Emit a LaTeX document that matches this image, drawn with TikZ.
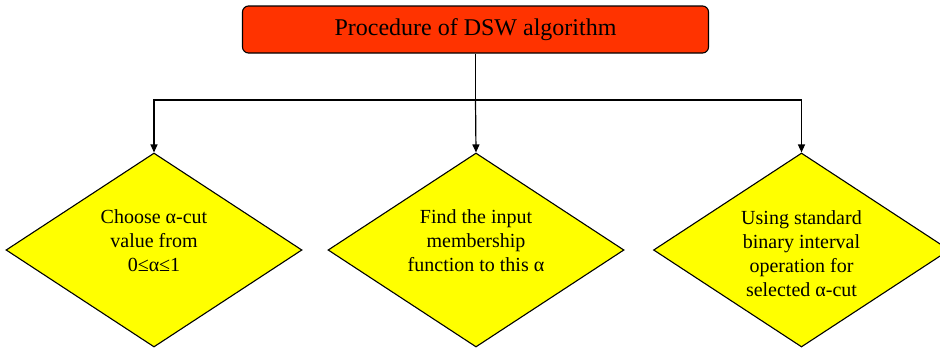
\documentclass[tikz,border=0pt]{standalone}
\usepackage{fontspec}
\setmainfont{Liberation Serif}
\usetikzlibrary{shapes.geometric,arrows.meta}
\definecolor{topred}{HTML}{FF3300}
\definecolor{diayellow}{HTML}{FFFF00}
\tikzset{
  x=1pt,y=-1pt,
  topbox/.style={draw=black,line width=1.1pt,fill=topred,rounded corners=6pt,
    minimum width=466pt,minimum height=47pt,inner sep=0pt,
    font=\fontsize{24}{28}\selectfont},
  dia/.style={draw=black,line width=1.1pt,fill=diayellow,shape=diamond,
    minimum width=296pt,minimum height=194pt,inner sep=0pt},
  dtext/.style={anchor=north,align=center,inner sep=0pt,
    font=\fontsize{20}{24}\selectfont},
  conn/.style={line width=1.2pt,draw=black},
  arr/.style={conn,-{Triangle[length=8pt,width=7pt]}}
}
\begin{document}
\begin{tikzpicture}
\useasboundingbox (0,0) rectangle (940,349);
\clip (0,0) rectangle (940,349);
\node[topbox] (top) at (475.5,29.5) {Procedure of DSW algorithm};
\node[dia] (d1) at (154,250) {};
\node[dia] (d2) at (476,250) {};
\node[dia] (d3) at (801.5,250) {};
\node[dtext] (t1) at (154,209) {Choose α-cut\\value from\\0≤α≤1};
\node[dtext] (t2) at (476,209) {Find the input\\membership\\function to this α};
\node[dtext] (t3) at (801.5,210) {Using standard\\binary interval\\operation for\\selected α-cut};
\coordinate (j) at (top.south |- 0,100);
\draw[conn] (top.south) -- (j);
\draw[arr] (j) -| (d1.north);
\draw[arr] (j) -- (d2.north);
\draw[arr] (j) -| (d3.north);
\end{tikzpicture}
\end{document}
